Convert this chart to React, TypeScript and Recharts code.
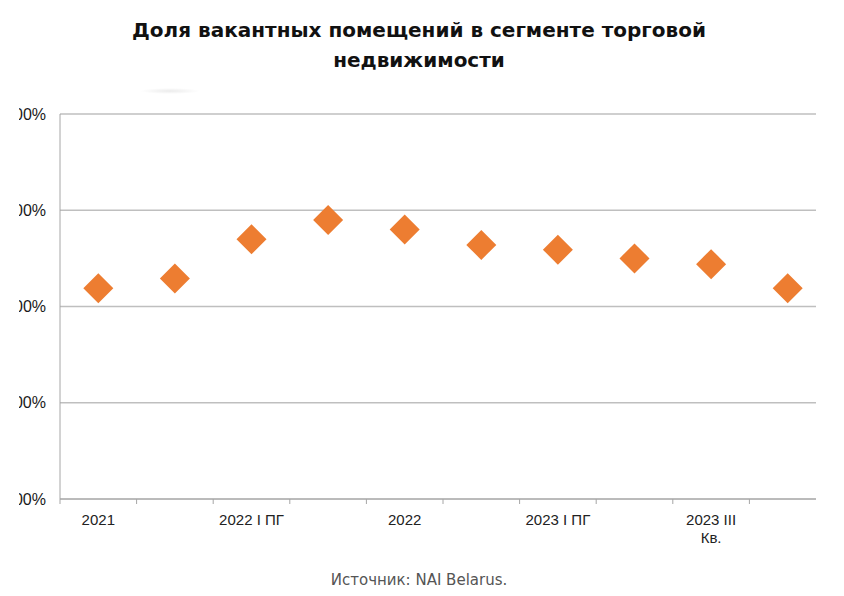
import React from "react";
import { LineChart, Line, XAxis, YAxis, CartesianGrid } from "recharts";

// категории по оси X (подписи показываются через одну)
const CATEGORIES = [
  "2021",
  "2022 I кв.",
  "2022 I ПГ",
  "2022 9 мес.",
  "2022",
  "2023 I кв.",
  "2023 I ПГ",
  "2023 II кв.",
  "2023 III Кв.",
  "2023 10 мес.",
];

// доля вакантных помещений, %
const VACANCY = [10.95, 11.45, 13.5, 14.5, 14.0, 13.2, 12.95, 12.5, 12.2, 10.95];

const Y_TICKS = [0, 5, 10, 15, 20];

const ORANGE = "#ed7d31";
const AXIS_FONT = "'Liberation Sans', Arial, sans-serif";

const data = CATEGORIES.map((name, i) => ({ name, value: VACANCY[i] }));

const PLOT_WIDTH = 766;
const STEP = PLOT_WIDTH / CATEGORIES.length;

function XTick(props: any) {
  const { x, y, payload, index } = props;
  const label: string = payload.value;
  const lines = label === "2023 III Кв." ? ["2023 III", "Кв."] : [label];
  return (
    <g>
      <line x1={x - STEP / 2} x2={x - STEP / 2} y1={y} y2={y + 5} stroke="#a6a6a6" />
      {index % 2 === 0 && (
        <text
          x={x}
          y={y + 26}
          textAnchor="middle"
          fill="#222"
          fontSize={15}
          fontFamily={AXIS_FONT}
        >
          {lines.map((l, i) => (
            <tspan key={i} x={x} dy={i === 0 ? 0 : 18}>
              {l}
            </tspan>
          ))}
        </text>
      )}
    </g>
  );
}

function Diamond(props: any) {
  const { cx, cy } = props;
  if (cx == null || cy == null) return <g />;
  const r = 15;
  return (
    <polygon
      points={`${cx},${cy - r} ${cx + r},${cy} ${cx},${cy + r} ${cx - r},${cy}`}
      fill={ORANGE}
    />
  );
}

export default function App() {
  return (
    <div
      style={{
        position: "absolute",
        left: 0,
        top: 0,
        width: 844,
        height: 596,
        background: "#fff",
        overflow: "hidden",
      }}
    >
      <div
        style={{
          position: "absolute",
          top: 15,
          left: 0,
          width: 838,
          textAlign: "center",
          fontFamily: "'DejaVu Sans', sans-serif",
          fontWeight: 700,
          fontSize: 20,
          lineHeight: "30px",
          color: "#111",
        }}
      >
        Доля вакантных помещений в сегменте торговой
        <br />
        недвижимости
      </div>
      <div
        style={{
          position: "absolute",
          left: 140,
          top: 88,
          width: 60,
          height: 6,
          borderRadius: 6,
          background: "radial-gradient(ellipse at center, rgba(0,0,0,0.08), rgba(0,0,0,0) 70%)",
        }}
      />
      <div
        style={{
          position: "absolute",
          left: 19,
          top: 0,
          width: 797,
          height: 560,
          overflow: "hidden",
        }}
      >
        <div style={{ position: "absolute", left: -19, top: 0 }}>
          <LineChart
            width={830}
            height={560}
            data={data}
            margin={{ top: 114, right: 4, bottom: 11, left: 0 }}
          >
            <CartesianGrid vertical={false} stroke="#bfbfbf" strokeWidth={1.5} />
            <XAxis
              dataKey="name"
              interval={0}
              height={50}
              tickSize={0}
              tickMargin={0}
              padding={{ left: STEP / 2, right: STEP / 2 }}
              stroke="#a6a6a6"
              tick={<XTick />}
            />
            <YAxis
              width={60}
              domain={[0, 20]}
              ticks={Y_TICKS}
              tickSize={0}
              tickMargin={14}
              stroke="#a6a6a6"
              tick={{ fill: "#1a1a1a", fontSize: 16, fontFamily: AXIS_FONT }}
              tickFormatter={(v: number) => `${v},00%`}
            />
            <Line
              dataKey="value"
              stroke="none"
              dot={<Diamond />}
              activeDot={false}
              isAnimationActive={false}
            />
          </LineChart>
        </div>
      </div>
      <div
        style={{
          position: "absolute",
          top: 571,
          left: 0,
          width: 838,
          textAlign: "center",
          fontFamily: "'DejaVu Sans', sans-serif",
          fontSize: 15,
          color: "#555",
        }}
      >
        Источник: NAI Belarus.
      </div>
    </div>
  );
}
